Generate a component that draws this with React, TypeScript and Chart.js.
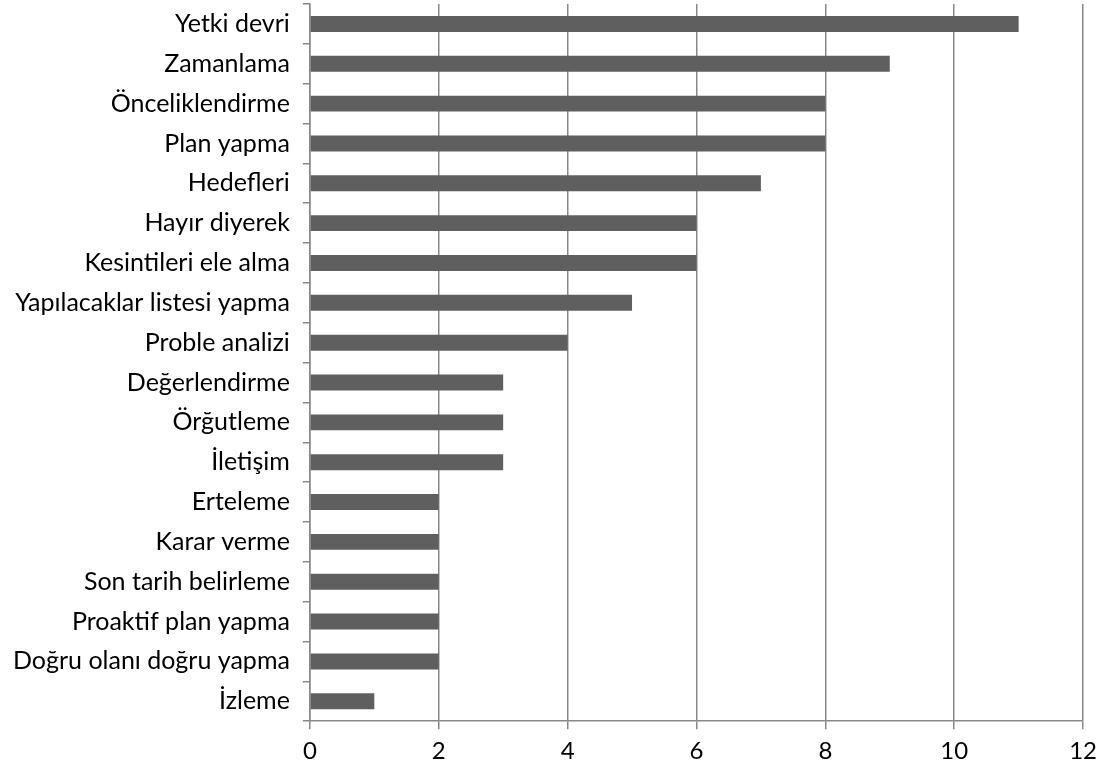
import React, { useEffect, useRef } from "react";
import { Chart, registerables } from "chart.js";

Chart.register(...registerables);

const categories = [
  "Yetki devri",
  "Zamanlama",
  "Önceliklendirme",
  "Plan yapma",
  "Hedefleri",
  "Hayır diyerek",
  "Kesintileri ele alma",
  "Yapılacaklar listesi yapma",
  "Proble analizi",
  "Değerlendirme",
  "Örğutleme",
  "İletişim",
  "Erteleme",
  "Karar verme",
  "Son tarih belirleme",
  "Proaktif plan yapma",
  "Doğru olanı doğru yapma",
  "İzleme",
];

const values = [11, 9, 8, 8, 7, 6, 6, 5, 4, 3, 3, 3, 2, 2, 2, 2, 2, 1];

const xMin = 0;
const xMax = 12;
const xStep = 2;

const SHIFT_TOP = 24;
const EXTRA_BOTTOM = 3;

export default function App() {
  const ref = useRef<HTMLCanvasElement | null>(null);

  useEffect(() => {
    if (!ref.current) return;
    const chart = new Chart(ref.current, {
      type: "bar",
      data: {
        labels: categories,
        datasets: [
          {
            data: values,
            backgroundColor: "#5f5f5f",
            borderWidth: 0,
            barPercentage: 0.8,
            categoryPercentage: 0.5,
          },
        ],
      },
      options: {
        indexAxis: "y",
        animation: false,
        responsive: false,
        maintainAspectRatio: false,
        layout: { padding: { left: 0, right: 14, top: 0, bottom: 0 } },
        plugins: { legend: { display: false }, tooltip: { enabled: false } },
        scales: {
          x: {
            min: xMin,
            max: xMax,
            ticks: {
              stepSize: xStep,
              color: "#000",
              font: { family: "Lato, sans-serif", size: 24 },
              padding: 8,
            },
            grid: { color: "#888888", lineWidth: 1.5, tickLength: 8 },
            border: { color: "#888888", width: 1.5 },
          },
          y: {
            offset: true,
            ticks: {
              color: "#000",
              font: { family: "Lato, sans-serif", size: 25 },
              padding: 13,
            },
            grid: {
              offset: true,
              drawOnChartArea: false,
              color: "#888888",
              lineWidth: 1.5,
              tickLength: 7,
            },
            border: { color: "#888888", width: 1.5 },
          },
        },
      },
    });
    return () => chart.destroy();
  }, []);

  return (
    <div style={{ position: "fixed", left: 0, top: 0, width: 1105, height: 771, background: "#fff", overflow: "hidden" }}>
      <canvas
        ref={ref}
        width={1105}
        height={771 + SHIFT_TOP + EXTRA_BOTTOM}
        style={{ display: "block", position: "absolute", left: 0, top: -SHIFT_TOP }}
      />
    </div>
  );
}
